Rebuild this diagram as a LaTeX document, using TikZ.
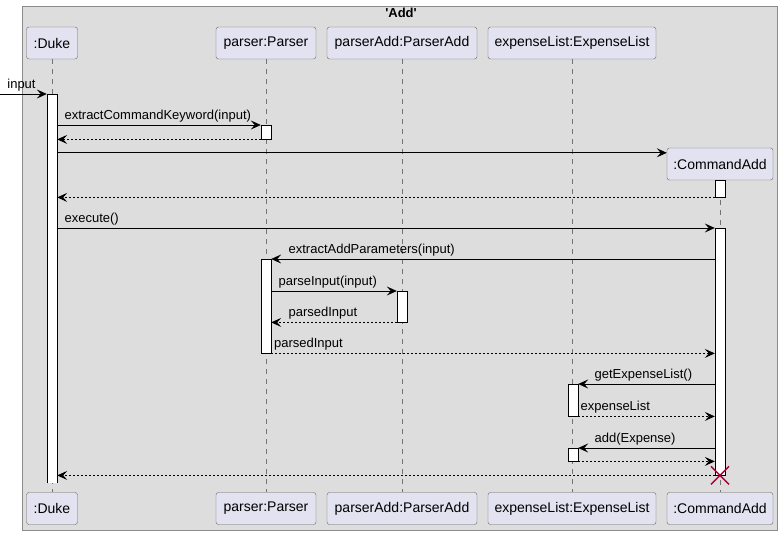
\documentclass[tikz,border=0pt]{standalone}
\usepackage{fontspec}
\setmainfont{Liberation Sans}
\usetikzlibrary{arrows.meta, positioning, calc}

\definecolor{partfill}{HTML}{E2E2F0}
\definecolor{framefill}{HTML}{DDDDDD}
\definecolor{crossred}{HTML}{A80036}

\tikzset{
  part/.style={draw=black!60, fill=partfill, rounded corners=2.5pt, minimum height=32pt, inner xsep=4pt, font=\fontsize{14}{16}\selectfont},
  life/.style={draw=black!55, dash pattern=on 5pt off 5pt},
  act/.style={draw, fill=white, minimum width=10pt, inner sep=0pt, anchor=north},
  msg/.style={-{Stealth[length=10pt,width=9pt,inset=4pt]}, line width=0.8pt},
  ret/.style={msg, dash pattern=on 2pt off 2pt},
  lbl/.style={font=\fontsize{13}{15}\selectfont, inner sep=0pt, anchor=base west, yshift=5.5pt},
}

\begin{document}
\begin{tikzpicture}[x=1pt, y=-1pt]
\useasboundingbox (0,0) rectangle (782,535);

% frame
\draw[draw=black!45, fill=framefill] (22,6) rectangle (777,530);
\node[font=\fontsize{13}{15}\selectfont\bfseries] (title) at (401,13) {\textquotesingle Add\textquotesingle};

% participants
\node[part, minimum width=51pt] (duke) at (52,43) {:Duke};
\node[part, minimum width=100pt] (parser) at (266,43) {parser:Parser};
\node[part, minimum width=150pt] (padd) at (402,43) {parserAdd:ParserAdd};
\node[part, minimum width=168pt] (elist) at (572,43) {expenseList:ExpenseList};
\node[part, minimum width=106pt] (cnew) at (720,164) {:CommandAdd};

\node[part, minimum width=51pt] (duke2) at (52,508.5) {:Duke};
\node[part, minimum width=100pt] (parser2) at (266,508.5) {parser:Parser};
\node[part, minimum width=150pt] (padd2) at (402,508.5) {parserAdd:ParserAdd};
\node[part, minimum width=168pt] (elist2) at (572,508.5) {expenseList:ExpenseList};
\node[part, minimum width=106pt] (cnew2) at (720,508.5) {:CommandAdd};

% lifelines
\draw[life] (duke) -- (duke2);
\draw[life] (parser) -- (parser2);
\draw[life] (padd) -- (padd2);
\draw[life] (elist) -- (elist2);
\draw[life] (cnew) -- (cnew2);

% activations
\node[act, draw=none, minimum height=389pt] (dact) at (52,94) {};
\draw (dact.south west) -- (dact.north west) -- (dact.north east) -- (dact.south east);
\node[act, minimum height=14pt] (pact1) at (266,125) {};
\node[act, minimum height=17pt] (cact1) at (720,180) {};
\node[act, minimum height=247pt] (cact2) at (720,228) {};
\node[act, minimum height=94pt] (pact2) at (266,259) {};
\node[act, minimum height=31pt] (paact) at (402,291) {};
\node[act, minimum height=32pt] (eact1) at (573,384) {};
\node[act, minimum height=13pt] (eact2) at (573,448) {};

% Duke
\coordinate (src) at (0,94);
\draw[msg] (src) -- (dact.north west) node[lbl, at start, xshift=7pt] (lin) {input};
\draw[msg] (dact.east |- pact1.north) -- (pact1.north west) node[lbl, at start, xshift=7pt] (lkey) {extractCommandKeyword(input)};
\draw[ret] (pact1.south west) -- (dact.east |- pact1.south);

% create CommandAdd
\coordinate (crt) at ($(cnew.north west)+(0,5)$);
\draw[msg] (dact.east |- crt) -- (crt);
\draw[ret] (cact1.south west) -- (dact.east |- cact1.south);
\draw[msg] (dact.east |- cact2.north) -- (cact2.north west) node[lbl, at start, xshift=7pt] (lexe) {execute()};

% parsing
\draw[msg] (cact2.west |- pact2.north) -- (pact2.north east) node[lbl, at end, xshift=17pt] (lpar) {extractAddParameters(input)};
\draw[msg] (pact2.east |- paact.north) -- (paact.north west) node[lbl, at start, xshift=7pt] (lpin) {parseInput(input)};
\draw[ret] (paact.south west) -- (pact2.east |- paact.south) node[lbl, at end, xshift=17pt] (lpd1) {parsedInput};
\draw[ret] (pact2.south east) -- (cact2.west |- pact2.south) node[lbl, at start, xshift=2.5pt] (lpd2) {parsedInput};

% expense list
\draw[msg] (cact2.west |- eact1.north) -- (eact1.north east) node[lbl, at end, xshift=16pt] (lgel) {getExpenseList()};
\draw[ret] (eact1.south east) -- (cact2.west |- eact1.south) node[lbl, at start, xshift=2pt] (lel) {expenseList};
\draw[msg] (cact2.west |- eact2.north) -- (eact2.north east) node[lbl, at end, xshift=16pt] (ladd) {add(Expense)};
\draw[ret] (eact2.south east) -- (cact2.west |- eact2.south);

% back to Duke
\draw[ret] (cact2.south west) -- (dact.east |- cact2.south);
\draw[crossred, line width=1.5pt] ($(cact2.south)+(-9,-9)$) -- ($(cact2.south)+(9,9)$)
  ($(cact2.south)+(-9,9)$) -- ($(cact2.south)+(9,-9)$);
\end{tikzpicture}
\end{document}
